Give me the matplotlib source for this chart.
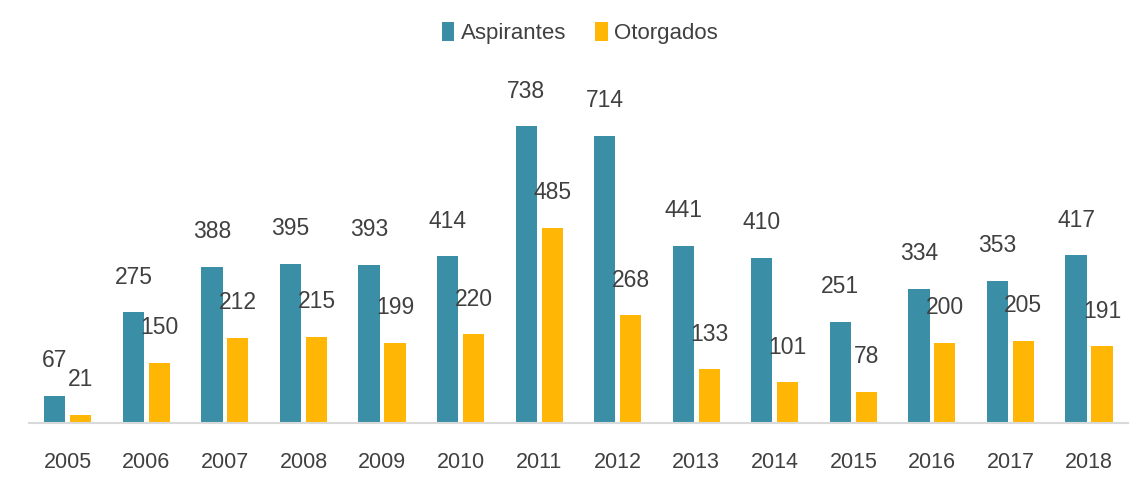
import numpy as np
import matplotlib.pyplot as plt

years = ["2005", "2006", "2007", "2008", "2009", "2010", "2011",
         "2012", "2013", "2014", "2015", "2016", "2017", "2018"]
aspirantes = [67, 275, 388, 395, 393, 414, 738, 714, 441, 410, 251, 334, 353, 417]
otorgados = [21, 150, 212, 215, 199, 220, 485, 268, 133, 101, 78, 200, 205, 191]

plt.rcParams['font.family'] = ["Liberation Sans", "DejaVu Sans"]

teal = "#3A8FA6"
gold = "#FFB605"
txt = "#404040"

fig = plt.figure(figsize=(11.42, 4.93), dpi=100)
ax = fig.add_axes([0.025, 0.142, 0.963, 0.736])

x = np.arange(len(years))
w = 0.27
off = 0.165
b1 = ax.bar(x - off, aspirantes, w, color=teal, label="Aspirantes")
b2 = ax.bar(x + off, otorgados, w, color=gold, label="Otorgados")

for bars, vals in [(b1, aspirantes), (b2, otorgados)]:
  for r, v in zip(bars, vals):
    ax.annotate(str(v), (r.get_x() + r.get_width()/2, v), xytext=(0, 17),
                textcoords="offset points", ha="center", va="bottom",
                fontsize=16.5, color=txt)

ax.set_xlim(-0.5, len(years) - 0.5)
ax.set_ylim(0, 902)
ax.set_xticks(x)
ax.set_xticklabels(years, fontsize=15.5, color=txt)
ax.tick_params(axis="x", length=0, pad=21)
ax.set_yticks([])
for s in ["top", "right", "left"]:
  ax.spines[s].set_visible(False)
ax.spines["bottom"].set_color("#D9D9D9")
ax.spines["bottom"].set_linewidth(1.5)

fig.legend(loc="upper center", bbox_to_anchor=(0.508, 0.995), ncol=2, frameon=False,
           fontsize=16, labelcolor=txt, handlelength=0.55, handleheight=0.9,
           handletextpad=0.3, columnspacing=1.3)

fig.savefig("out.png", dpi=100)
